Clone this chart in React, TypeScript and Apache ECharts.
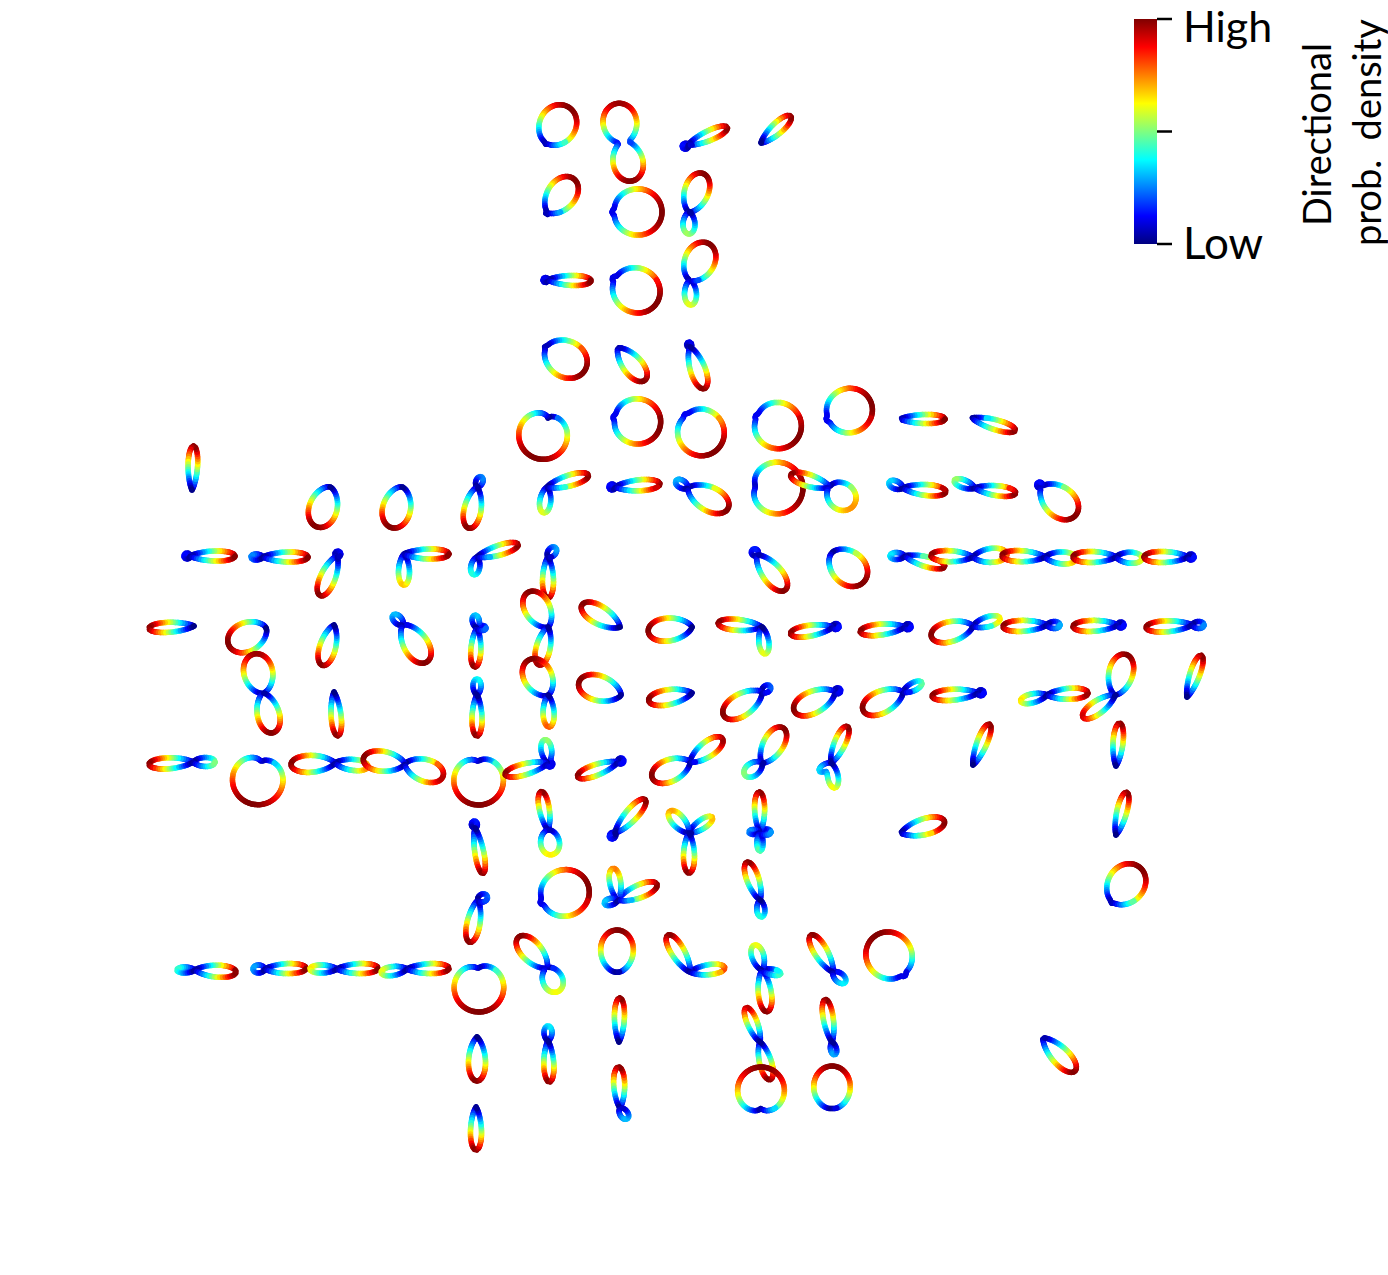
import React, { useEffect, useRef } from "react";
import * as echarts from "echarts";

type Lobe = [number, number, number]; // direction (deg), length, width
type Glyph = [number, number, Lobe[]]; // pinch x, pinch y, lobes

const rowA: Glyph[] = [
  [547, 142, [[58, 41, 36], [238, 2.5, 6]]],
  [623, 142, [[99, 39, 34], [-76, 40, 30]]],
  [688, 145, [[24, 43, 10], [204, 6, 6]]],
  [761, 143, [[42, 40, 11]]],
];
const rowB: Glyph[] = [
  [548, 212, [[52, 42, 28], [232, 2.5, 6]]],
  [617, 212, [[0, 45, 47], [180, 5, 5]]],
  [689, 212, [[70, 41, 24], [-90, 22, 12]]],
];
const rowC: Glyph[] = [
  [548, 280, [[-1, 43, 10], [180, 5, 5]]],
  [617, 280, [[-28, 46, 45], [152, 5, 5]]],
  [690, 280, [[63, 41, 30], [-88, 25, 12]]],
];
const rowD: Glyph[] = [
  [547, 348, [[-30, 44, 36], [150, 2.5, 6]]],
  [618, 348, [[-50, 42, 19]]],
  [690, 347, [[-71, 44, 15], [109, 5, 5]]],
];
const rowE: Glyph[] = [
  [548, 418, [[-106, 42, 50]]],
  [618, 418, [[-10, 43, 46], [170, 5, 5]]],
  [688, 418, [[-48, 43, 47], [132, 5, 5]]],
  [760, 418, [[-23, 43, 47], [157, 5, 5]]],
  [831, 418, [[22, 43, 45], [202, 5, 5]]],
  [900, 419, [[0, 45, 9]]],
  [972, 418, [[-16, 45, 10]]],
];
const rowF: Glyph[] = [
  [192, 490, [[88, 44, 9.5]]],
  [330, 487, [[-108, 42, 28]]],
  [402, 487, [[-104, 42, 28]]],
  [477, 487, [[-101, 42, 17], [67, 11, 7]]],
  [547, 487, [[16, 43, 11], [-97, 26, 11]]],
  [615, 487, [[4, 45, 11], [180, 6, 6]]],
  [688, 488, [[-27, 45, 24], [149, 14, 8]]],
  [758, 487, [[-3, 45, 52], [177, 3, 4]]],
  [830, 487, [[163, 41, 12], [-39, 30, 27]]],
  [903, 488, [[-5, 43, 11], [158, 15, 8]]],
  [975, 488, [[-7, 41, 10], [160, 22, 8]]],
  [1042, 487, [[-40, 44, 30], [140, 6, 6]]],
];
const rowG: Glyph[] = [
  [190, 556, [[0, 45, 10], [180, 6, 6]]],
  [263, 557, [[0, 45, 10], [180, 12, 6]]],
  [337, 556, [[-113, 43, 15], [67, 5, 6]]],
  [404, 554, [[0, 45, 10], [-90, 31, 11]]],
  [477, 557, [[17, 43, 10], [-100, 18, 9]]],
  [548, 557, [[-90, 41, 11], [52, 12, 8]]],
  [757, 555, [[-51, 45, 19], [129, 7, 7]]],
  [832, 553, [[-42, 43, 33]]],
  [905, 556, [[-15, 41, 10], [180, 15, 7]]],
  [973, 557, [[178, 42, 11], [5, 34, 14]]],
  [1045, 557, [[178, 43, 11], [-3, 31, 12]]],
  [1116, 557, [[180, 43, 11], [-3, 26, 11]]],
  [1188, 557, [[180, 44, 11], [0, 6, 6]]],
];
const rowH: Glyph[] = [
  [194, 626, [[183, 45, 10]]],
  [266, 628, [[205, 41, 29]]],
  [334, 625, [[-106, 42, 16]]],
  [403, 625, [[-57, 44, 24], [135, 14, 8]]],
  [477, 628, [[-93, 39, 10], [100, 13, 7], [0, 9, 5]]],
  [548, 627, [[120, 40, 25], [-103, 39, 14]]],
  [620, 627, [[150, 44, 18]]],
  [692, 627, [[186, 44, 23]]],
  [762, 627, [[175, 44, 11], [-83, 27, 10]]],
  [833, 627, [[189, 43, 11], [9, 6, 6]]],
  [905, 627, [[186, 45, 11], [6, 6, 6]]],
  [973, 626, [[194, 43, 20], [16, 28, 10]]],
  [1047, 625, [[182, 44, 11], [0, 13, 7]]],
  [1118, 625, [[182, 45, 11], [0, 6, 6]]],
  [1192, 625, [[183, 46, 11], [0, 12, 7]]],
];
const rowI: Glyph[] = [
  [263, 693, [[103, 40, 29], [-76, 41, 22]]],
  [334, 692, [[-85, 44, 10]]],
  [477, 695, [[-90, 41, 10], [90, 16, 8]]],
  [548, 695, [[119, 40, 28], [-88, 32, 11]]],
  [621, 695, [[163, 44, 25]]],
  [692, 693, [[190, 44, 15]]],
  [762, 692, [[212, 45, 22], [35, 10, 7]]],
  [835, 692, [[205, 45, 22], [25, 6, 6]]],
  [903, 692, [[205, 44, 22], [27, 21, 8]]],
  [978, 693, [[184, 46, 11], [4, 6, 6]]],
  [1047, 695, [[3, 41, 11], [193, 27, 9]]],
  [1115, 695, [[75, 42, 24], [215, 39, 13]]],
  [1187, 697, [[71, 44, 10]]],
];
const rowJ: Glyph[] = [
  [193, 762, [[183, 44, 11], [0, 22, 9]]],
  [261, 763, [[-101, 42, 51], [79, 2, 4]]],
  [335, 763, [[182, 44, 17], [-6, 33, 11]]],
  [405, 764, [[173, 42, 20], [-17.5, 40, 22]]],
  [478, 763, [[-88, 42, 50], [92, 2, 4]]],
  [548, 763, [[195, 44, 11], [98, 23, 10], [-30, 5, 6]]],
  [618, 762, [[200, 43, 11], [20, 6, 6]]],
  [690, 762, [[203, 41, 22], [36, 40, 15]]],
  [762, 763, [[59, 41, 20], [215, 21, 13]]],
  [831, 763, [[66, 40, 11], [-81, 25, 10], [215, 14, 6]]],
  [973, 765, [[68, 44, 10]]],
  [1116, 766, [[85, 43, 10]]],
];
const rowK: Glyph[] = [
  [475, 828, [[-80, 46, 9], [100, 7, 6]]],
  [548, 830, [[100, 39, 10], [-81, 25, 19]]],
  [615, 833, [[48, 45, 12], [228, 7, 6]]],
  [689, 833, [[-90, 40, 11], [132, 29, 12], [34, 28, 9]]],
  [760, 832, [[91, 40, 10], [-90, 19, 6], [180, 11, 5], [0, 11, 6]]],
  [901, 833, [[15, 45, 16]]],
  [1116, 835, [[76, 44, 10]]],
];
const rowL: Glyph[] = [
  [545, 901, [[22, 46, 47], [202, 5, 5]]],
  [618, 900, [[99, 32, 11], [22, 42, 13], [194, 14, 7]]],
  [760, 900, [[109, 40, 12], [-85, 17, 8]]],
  [478, 900, [[-101, 43, 13], [23, 10, 8]]],
  [1113, 901, [[52, 43, 36], [232, 2.5, 6]]],
];
const rowM: Glyph[] = [
  [195, 970, [[-3, 41, 12], [180, 18, 6]]],
  [265, 969, [[1, 41, 10], [180, 12, 8]]],
  [337, 969, [[1, 41, 10], [180, 27, 8]]],
  [407, 969, [[1, 42, 10], [188, 26, 9]]],
  [478, 970, [[-87, 42, 50], [93, 2, 4]]],
  [547, 968, [[133, 42, 20], [-65, 26, 20]]],
  [617, 972, [[90, 42, 33]]],
  [690, 972, [[121, 43, 13], [7, 35, 10]]],
  [762, 970, [[-83, 42, 13], [107, 26, 12], [-11, 19, 6]]],
  [833, 972, [[121, 43, 13], [-41, 16, 9]]],
  [902, 972, [[128, 45, 46], [-52, 5, 5]]],
];
const rowN: Glyph[] = [
  [477, 1037, [[-90, 44, 17]]],
  [548, 1041, [[-88, 41, 10], [90, 15, 8]]],
  [619, 1042, [[89, 44, 10]]],
  [760, 1042, [[112, 37, 10], [-75, 39, 12]]],
  [832, 1042, [[99, 43, 10], [-78, 13, 6]]],
  [1043, 1038, [[-46, 46, 17]]],
  [761, 1108, [[90, 41, 48]]],
  [832, 1108, [[90, 42, 37]]],
  [620, 1108, [[92, 41, 11], [-56, 13, 8]]],
  [476, 1107, [[-90, 43, 11]]],
];

const glyphs: Glyph[] = [
  ...rowA, ...rowB, ...rowC, ...rowD, ...rowE, ...rowF, ...rowG,
  ...rowH, ...rowI, ...rowJ, ...rowK, ...rowL, ...rowM, ...rowN,
];

const colorbarLabels = ["High", "Low"];
const colorbarTitle = ["Directional", "prob.  density"];
const colorbarStops = [0, 0.11, 0.125, 0.375, 0.625, 0.875, 1];

const PAGE_W = 1388;
const PAGE_H = 1275;
const STROKE = 5.5;

const clamp01 = (v: number) => Math.min(1, Math.max(0, v));
function jet(t: number): string {
  const r = clamp01(1.5 - Math.abs(4 * t - 3));
  const g = clamp01(1.5 - Math.abs(4 * t - 2));
  const b = clamp01(1.5 - Math.abs(4 * t - 1));
  return `rgb(${Math.round(r * 255)},${Math.round(g * 255)},${Math.round(b * 255)})`;
}

// Radial profile of one direction glyph: sum of its lobes.
function radius(lobes: Lobe[], deg: number): number {
  let sum = 0;
  for (const [a, l, w] of lobes) {
    const ratio = w / l;
    const p = Math.max(0.8, 2.9 / (ratio * ratio) - 0.6);
    const half = (((deg - a) * Math.PI) / 180) / 2;
    sum += l * Math.pow(Math.cos(half) * Math.cos(half), p);
  }
  return sum;
}

function renderGlyph(params: any, api: any) {
  const g = glyphs[params.dataIndex];
  const cx = api.value(0);
  const cy = api.value(1);
  const lobes = g[2];
  const step = 0.5;
  const samples: number[] = [];
  let rMax = 0;
  for (let d = 0; d <= 360; d += step) {
    const r = radius(lobes, d);
    samples.push(r);
    if (r > rMax) rMax = r;
  }
  const children: any[] = [];
  const point = (i: number) => {
    const a = (i * step * Math.PI) / 180;
    return api.coord([cx + samples[i] * Math.cos(a), cy - samples[i] * Math.sin(a)]);
  };
  let last = point(0);
  let lastR = samples[0];
  for (let i = 1; i < samples.length; i++) {
    const p = point(i);
    const dist = Math.hypot(p[0] - last[0], p[1] - last[1]);
    if (dist >= 2 || i === samples.length - 1) {
      const mid = (lastR + samples[i]) / 2;
      children.push({
        type: "line",
        silent: true,
        shape: { x1: last[0], y1: last[1], x2: p[0], y2: p[1] },
        style: { stroke: jet(mid / rMax), lineWidth: STROKE, lineCap: "round" },
      });
      last = p;
      lastR = samples[i];
    }
  }
  return { type: "group", children };
}

export default function App() {
  const ref = useRef<HTMLDivElement>(null);
  useEffect(() => {
    if (!ref.current) return;
    const chart = echarts.init(ref.current, undefined, { renderer: "svg" });
    const barX = 1134;
    const barTop = 19;
    const barBottom = 244;
    const font = "Lato, 'Open Sans', sans-serif";
    const tickY = [barTop, (barTop + barBottom) / 2, barBottom];
    chart.setOption({
      animation: false,
      backgroundColor: "#ffffff",
      grid: { left: 0, right: 0, top: 0, bottom: 0 },
      xAxis: { type: "value", min: 0, max: PAGE_W, show: false },
      yAxis: { type: "value", min: 0, max: PAGE_H, inverse: true, show: false },
      series: [
        {
          type: "custom",
          silent: true,
          clip: false,
          renderItem: renderGlyph,
          encode: { x: 0, y: 1 },
          data: glyphs.map((g) => [g[0], g[1]]),
        },
      ],
      graphic: [
        {
          type: "rect",
          shape: { x: barX, y: barTop, width: 23, height: barBottom - barTop },
          style: {
            fill: new echarts.graphic.LinearGradient(
              0, 1, 0, 0,
              colorbarStops.map((s) => ({ offset: s, color: jet(s) }))
            ),
          },
        },
        ...tickY.map((y) => ({
          type: "line",
          shape: { x1: barX + 23, y1: y, x2: barX + 38, y2: y },
          style: { stroke: "#000", lineWidth: 2.5 },
        })),
        {
          type: "text",
          x: 1183,
          y: 25,
          style: { text: colorbarLabels[0], font: `43px ${font}`, fill: "#000", textAlign: "left", textVerticalAlign: "middle", lineHeight: 40 },
        },
        {
          type: "text",
          x: 1183,
          y: 242,
          style: { text: colorbarLabels[1], font: `44px ${font}`, fill: "#000", textAlign: "left", textVerticalAlign: "middle", lineHeight: 40 },
        },
        {
          type: "text",
          x: 1316,
          y: 226,
          rotation: Math.PI / 2,
          style: { text: colorbarTitle[0], font: `38px ${font}`, fill: "#000", textAlign: "left", textVerticalAlign: "middle" },
        },
        {
          type: "text",
          x: 1366,
          y: 246,
          rotation: Math.PI / 2,
          style: { text: colorbarTitle[1], font: `38px ${font}`, fill: "#000", textAlign: "left", textVerticalAlign: "middle" },
        },
      ],
    });
    return () => chart.dispose();
  }, []);
  return (
    <div
      ref={ref}
      style={{ position: "absolute", left: 0, top: 0, width: PAGE_W, height: PAGE_H }}
    />
  );
}
